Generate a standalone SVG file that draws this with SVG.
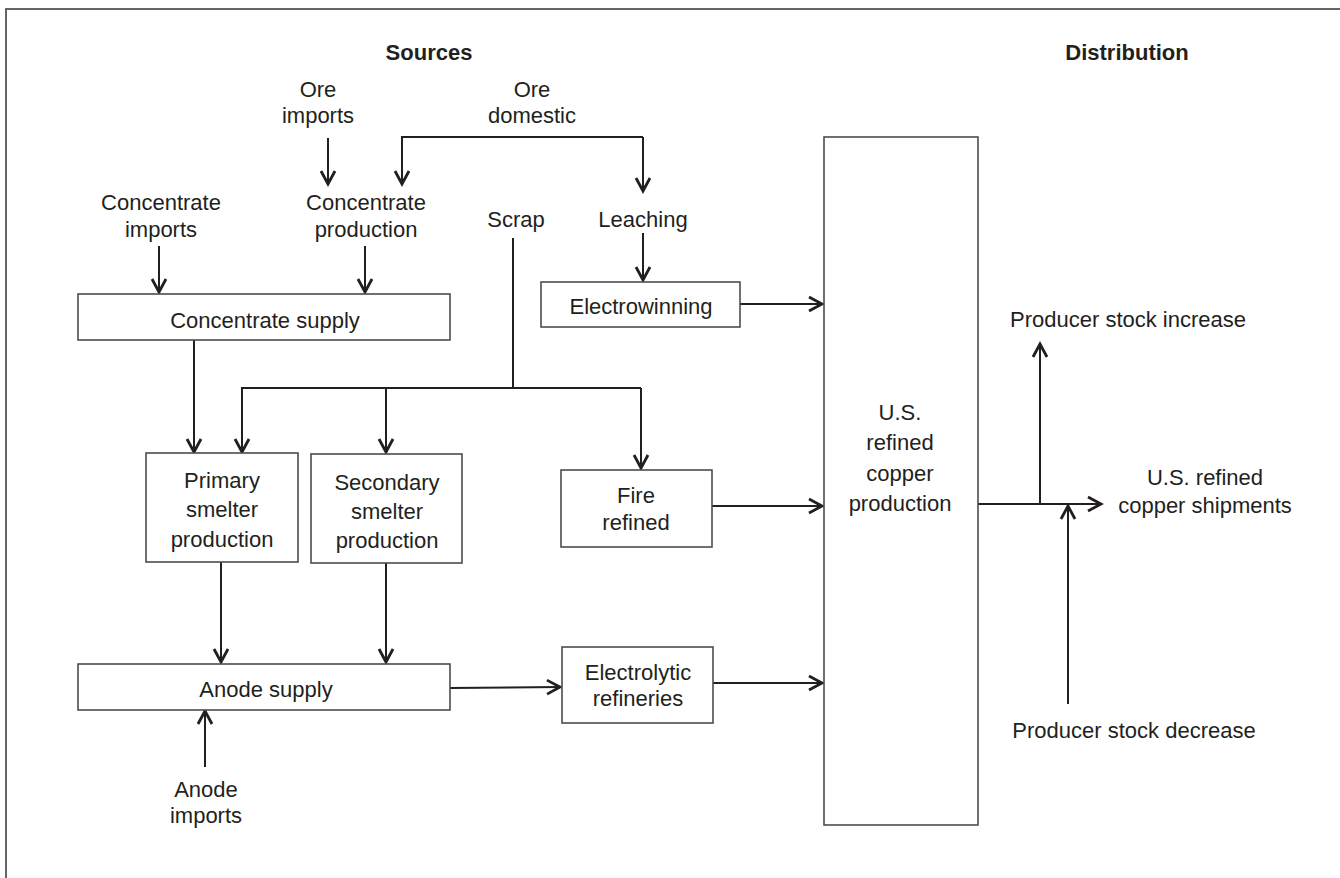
<svg xmlns="http://www.w3.org/2000/svg" width="1340" height="878" viewBox="0 0 1340 878">
<style>
text{font-family:"Liberation Sans",Arial,sans-serif;font-size:22px;fill:#231f20;text-anchor:middle}
.h{font-weight:bold}
.box{fill:#fff;stroke:#4d4d4d;stroke-width:1.6}
.c{fill:none;stroke:#231f20;stroke-width:2}
</style>
<defs>
<marker id="a" markerUnits="userSpaceOnUse" markerWidth="20" markerHeight="20" viewBox="-16 -10 20 20" refX="0" refY="0" orient="auto">
<path d="M-13,-7 L0,0 L-13,7" fill="none" stroke="#231f20" stroke-width="2.8" stroke-linejoin="miter"/>
</marker>
</defs>
<rect x="6" y="9" width="1400" height="900" fill="#fff" stroke="#555" stroke-width="1.8"/>
<g id="headers">
<text class="h" x="429" y="60">Sources</text>
<text class="h" x="1127" y="60">Distribution</text>
</g>
<g id="connectors">
<path class="c" d="M328,138 V184" marker-end="url(#a)"/>
<path class="c" d="M643,137 H402 V184" marker-end="url(#a)"/>
<path class="c" d="M643,137 V191" marker-end="url(#a)"/>
<path class="c" d="M159,246 V292" marker-end="url(#a)"/>
<path class="c" d="M365,246 V292" marker-end="url(#a)"/>
<path class="c" d="M643,233 V280" marker-end="url(#a)"/>
<path class="c" d="M740,304 H822" marker-end="url(#a)"/>
<path class="c" d="M194,340 V452" marker-end="url(#a)"/>
<path class="c" d="M513,238 V388"/>
<path class="c" d="M641,388 H242 V452" marker-end="url(#a)"/>
<path class="c" d="M386,388 V452" marker-end="url(#a)"/>
<path class="c" d="M641,388 V468" marker-end="url(#a)"/>
<path class="c" d="M712,506 H822" marker-end="url(#a)"/>
<path class="c" d="M221,562 V662" marker-end="url(#a)"/>
<path class="c" d="M386,563 V662" marker-end="url(#a)"/>
<path class="c" d="M450,688 L560,687" marker-end="url(#a)"/>
<path class="c" d="M713,683 H822" marker-end="url(#a)"/>
<path class="c" d="M205,767 V711" marker-end="url(#a)"/>
<path class="c" d="M978,504 H1101" marker-end="url(#a)"/>
<path class="c" d="M1040,504 V344" marker-end="url(#a)"/>
<path class="c" d="M1068,704 V506" marker-end="url(#a)"/>
</g>
<g id="ore-imports"><text x="318" y="97">Ore</text><text x="318" y="123">imports</text></g>
<g id="ore-domestic"><text x="532" y="97">Ore</text><text x="532" y="123">domestic</text></g>
<g id="concentrate-imports"><text x="161" y="210">Concentrate</text><text x="161" y="237">imports</text></g>
<g id="concentrate-production"><text x="366" y="210">Concentrate</text><text x="366" y="237">production</text></g>
<g id="scrap"><text x="516" y="227">Scrap</text></g>
<g id="leaching"><text x="643" y="227">Leaching</text></g>
<g id="concentrate-supply"><rect class="box" x="78" y="294" width="372" height="46"/><text x="265" y="328">Concentrate supply</text></g>
<g id="electrowinning"><rect class="box" x="541" y="282" width="199" height="45"/><text x="641" y="314">Electrowinning</text></g>
<g id="primary-smelter"><rect class="box" x="146" y="453" width="152" height="109"/><text x="222" y="488">Primary</text><text x="222" y="517">smelter</text><text x="222" y="547">production</text></g>
<g id="secondary-smelter"><rect class="box" x="311" y="454" width="151" height="109"/><text x="387" y="490">Secondary</text><text x="387" y="519">smelter</text><text x="387" y="548">production</text></g>
<g id="fire-refined"><rect class="box" x="561" y="470" width="151" height="77"/><text x="636" y="503">Fire</text><text x="636" y="530">refined</text></g>
<g id="anode-supply"><rect class="box" x="78" y="664" width="372" height="46"/><text x="266" y="697">Anode supply</text></g>
<g id="electrolytic-refineries"><rect class="box" x="562" y="647" width="151" height="76"/><text x="638" y="680">Electrolytic</text><text x="638" y="706">refineries</text></g>
<g id="anode-imports"><text x="206" y="797">Anode</text><text x="206" y="823">imports</text></g>
<g id="us-refined-production"><rect class="box" x="824" y="137" width="154" height="688"/><text x="900" y="420">U.S.</text><text x="900" y="450">refined</text><text x="900" y="481">copper</text><text x="900" y="511">production</text></g>
<g id="stock-increase"><text x="1128" y="327">Producer stock increase</text></g>
<g id="shipments"><text x="1205" y="485">U.S. refined</text><text x="1205" y="513">copper shipments</text></g>
<g id="stock-decrease"><text x="1134" y="738">Producer stock decrease</text></g>
</svg>
